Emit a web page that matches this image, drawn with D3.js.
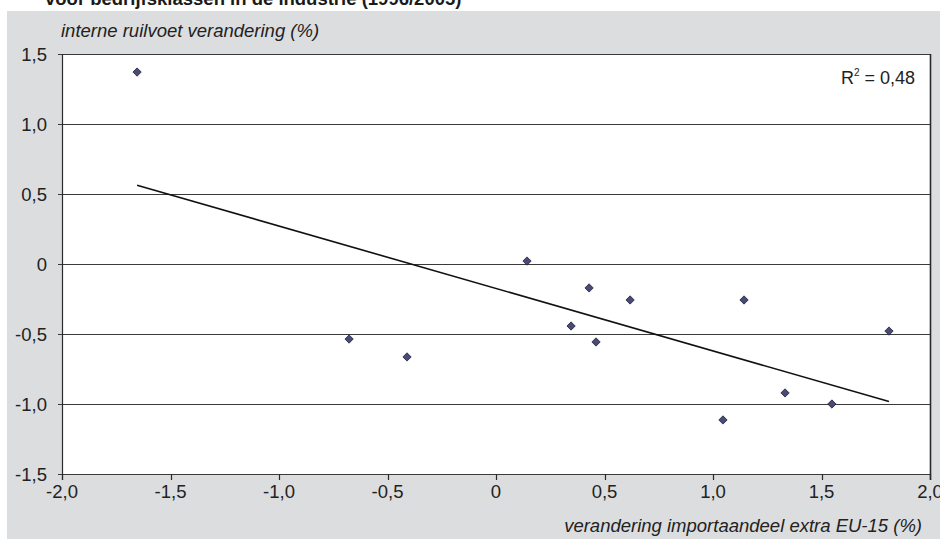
<!DOCTYPE html>
<html><head><meta charset="utf-8">
<script src="https://cdn.jsdelivr.net/npm/d3@7"></script>
<style>html,body{margin:0;padding:0;background:#fff;}svg{display:block;font-family:Arial,"Liberation Sans",sans-serif;}</style>
</head><body>
<svg id="c" width="940" height="539"></svg>
<script>
const title = "voor bedrijfsklassen in de industrie (1996/2005)";
const yTitle = "interne ruilvoet verandering (%)";
const xTitle = "verandering importaandeel extra EU-15 (%)";
const r2Label = "0,48";
const xValues = [-1.654, -0.677, -0.410, 0.143, 0.346, 0.429, 0.461, 0.618, 1.046, 1.143, 1.332, 1.548, 1.811];
const yValues = [1.371, -0.536, -0.664, 0.021, -0.443, -0.171, -0.557, -0.257, -1.114, -0.257, -0.921, -1.000, -0.479];
const xTicks = [-2.0, -1.5, -1.0, -0.5, 0, 0.5, 1.0, 1.5, 2.0];
const yTicks = [-1.5, -1.0, -0.5, 0, 0.5, 1.0, 1.5];

const svg = d3.select("#c");
const L = 62, R = 930, T = 54, B = 474;
const x = d3.scaleLinear().domain([-2, 2]).range([L, R]);
const y = d3.scaleLinear().domain([-1.5, 1.5]).range([B, T]);
const fmt = v => v === 0 ? "0" : d3.format(".1f")(v).replace(".", ",").replace("−", "-");

svg.append("rect").attr("x", 7).attr("y", 11).attr("width", 933).attr("height", 528).attr("fill", "#dcdddf");
svg.append("text").attr("x", 45).attr("y", 5).attr("font-size", 18.5).attr("font-weight", "bold").attr("fill", "#1a1a1a").text(title);
svg.append("rect").attr("x", L).attr("y", T).attr("width", R - L).attr("height", B - T).attr("fill", "#fff");

// grid
svg.append("g").selectAll("line").data(yTicks).join("line")
  .attr("x1", L - 4).attr("x2", R).attr("y1", d => Math.round(y(d)) + 0.5).attr("y2", d => Math.round(y(d)) + 0.5)
  .attr("stroke", "#3a3a3a").attr("stroke-width", 1.2);
// axes
svg.append("line").attr("x1", L + 0.5).attr("x2", L + 0.5).attr("y1", T).attr("y2", B + 6).attr("stroke", "#2a2a2a").attr("stroke-width", 1.2);
svg.append("line").attr("x1", R + 0.5).attr("x2", R + 0.5).attr("y1", T).attr("y2", B + 6).attr("stroke", "#2a2a2a").attr("stroke-width", 1.6);
svg.append("g").selectAll("line").data(xTicks).join("line")
  .attr("x1", d => Math.round(x(d)) + 0.5).attr("x2", d => Math.round(x(d)) + 0.5).attr("y1", B).attr("y2", B + 6)
  .attr("stroke", "#2a2a2a").attr("stroke-width", 1.2);

// tick labels
svg.append("g").selectAll("text").data(yTicks).join("text")
  .attr("x", 47).attr("y", d => y(d) + 6.5).attr("text-anchor", "end").attr("font-size", 18.5).attr("fill", "#222").text(fmt);
svg.append("g").selectAll("text").data(xTicks).join("text")
  .attr("x", d => x(d)).attr("y", 498).attr("text-anchor", "middle").attr("font-size", 18.5).attr("fill", "#222").text(fmt);

svg.append("text").attr("x", 61).attr("y", 37).attr("font-size", 18.5).attr("font-style", "italic").attr("fill", "#222").text(yTitle);
svg.append("text").attr("x", 922).attr("y", 532).attr("text-anchor", "end").attr("font-size", 18.5).attr("font-style", "italic").attr("fill", "#222").text(xTitle);

const r2 = svg.append("text").attr("x", 841).attr("y", 84).attr("font-size", 18).attr("fill", "#222");
r2.append("tspan").text("R");
r2.append("tspan").attr("font-size", 10).attr("dy", -8).text("2");
r2.append("tspan").attr("dy", 8).text(" = " + r2Label);

// regression
const pts = xValues.map((v, i) => [v, yValues[i]]);
const mx = d3.mean(xValues), my = d3.mean(yValues);
const slope = d3.sum(pts, p => (p[0] - mx) * (p[1] - my)) / d3.sum(pts, p => (p[0] - mx) ** 2);
const icpt = my - slope * mx;
const [x0, x1] = d3.extent(xValues);
svg.append("line").attr("x1", x(x0)).attr("y1", y(icpt + slope * x0)).attr("x2", x(x1)).attr("y2", y(icpt + slope * x1))
  .attr("stroke", "#111").attr("stroke-width", 1.6);

// points
svg.append("g").selectAll("path").data(pts).join("path")
  .attr("d", d3.symbol(d3.symbolDiamond2, 44))
  .attr("transform", d => `translate(${x(d[0])},${y(d[1])})`)
  .attr("fill", "#4a4a78").attr("stroke", "#1e1e30").attr("stroke-width", 0.8);
</script>
</body></html>
